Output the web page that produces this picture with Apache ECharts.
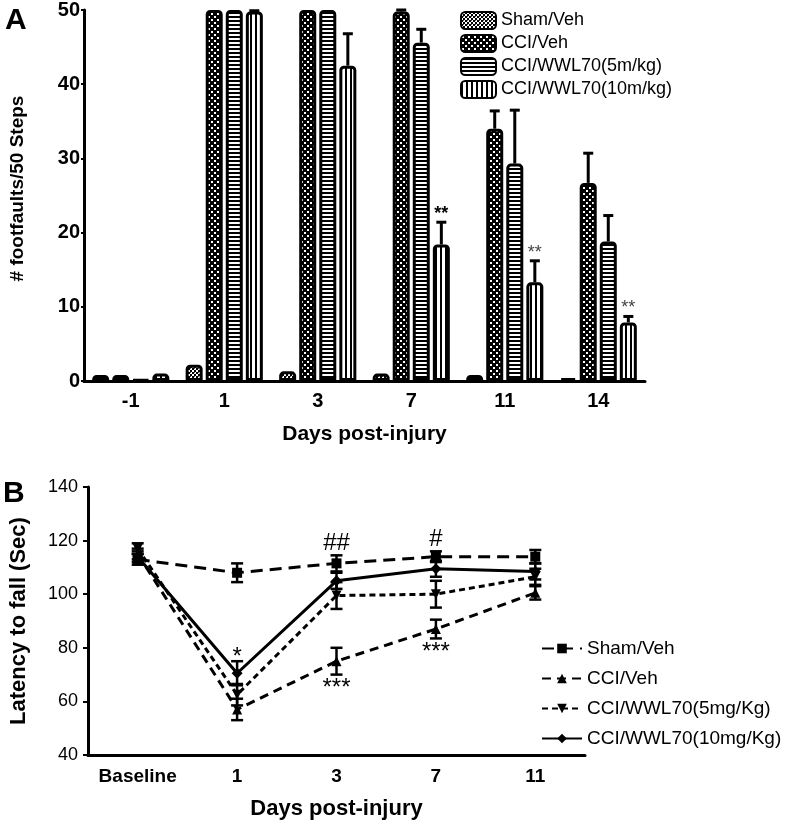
<!DOCTYPE html>
<html><head><meta charset="utf-8">
<script src="https://cdn.jsdelivr.net/npm/echarts@6/dist/echarts.min.js"></script>
<style>html,body{margin:0;padding:0;background:#fff}#c{width:792px;height:821px}</style>
</head><body><div id="c"></div>
<script>
// ---------- Panel A data ----------
const daysA = ['-1', '1', '3', '7', '11', '14'];
const namesA = ['Sham/Veh', 'CCI/Veh', 'CCI/WWL70(5m/kg)', 'CCI/WWL70(10m/kg)'];
const shamVehA = [0.8, 2.2, 1.3, 1.0, 0.8, 0.4];
const cciVehA = [0.8, 50, 50, 49.8, 34.0, 26.7];
const wwl5A = [0.2, 50, 50, 45.6, 29.3, 18.8];
const wwl10A = [1.0, 49.8, 42.5, 18.4, 13.3, 7.9];
const shamVehErrA = [0, 0, 0, 0, 0, 0];
const cciVehErrA = [0, 0, 0, 0.2, 2.4, 4.0];
const wwl5ErrA = [0, 0, 0, 1.8, 7.2, 3.5];
const wwl10ErrA = [0, 0.1, 4.3, 3.0, 2.9, 0.8];
const yTicksA = [0, 10, 20, 30, 40, 50];
// annotations: [day index, series index, text]
const annotA = [[3, 3, '**'], [4, 3, '**'], [5, 3, '**']];

// ---------- Panel B data ----------
const daysB = ['Baseline', '1', '3', '7', '11'];
const namesB = ['Sham/Veh', 'CCI/Veh', 'CCI/WWL70(5mg/Kg)', 'CCI/WWL70(10mg/Kg)'];
const shamVehB = [113, 108, 111.5, 114, 114];
const cciVehB = [115, 57, 75, 87, 100.5];
const wwl5B = [117, 62.5, 99.5, 100, 106.5];
const wwl10B = [114, 70.5, 105, 109.5, 108.5];
const shamVehErrB = [2, 3.5, 3, 2, 2.5];
const cciVehErrB = [2, 4, 5, 3.5, 2.5];
const wwl5ErrB = [2, 4, 5, 5, 3];
const wwl10ErrB = [2, 4.5, 3, 3, 3];
const yTicksB = [40, 60, 80, 100, 120, 140];
// annotations: [day index, series index, side, text]
const annotB = [[1, 3, 'above', '*'], [2, 0, 'above', '##'], [3, 0, 'above', '#'], [2, 1, 'below', '***'], [3, 1, 'below', '***']];

// ---------- patterns ----------
function pat(w, h, draw) {
  const c = document.createElement('canvas'); c.width = w; c.height = h;
  const g = c.getContext('2d'); g.fillStyle = '#fff'; g.fillRect(0, 0, w, h); g.fillStyle = '#000'; draw(g);
  return { image: c, repeat: 'repeat' };
}
const patSham = pat(4, 4, g => { g.fillRect(0, 0, 2, 2); g.fillRect(2, 2, 2, 2); g.fillStyle = '#555'; g.fillRect(2, 0, 1, 1); });
const patCCI = pat(6, 6, g => { g.fillRect(0, 0, 6, 6); g.fillStyle = '#fff'; g.fillRect(1, 1, 2, 2); g.fillRect(4, 4, 2, 2); });
const patW5 = pat(4, 4, g => { g.fillRect(0, 0, 4, 2); });
const patW10 = pat(5, 4, g => { g.fillRect(0, 0, 2, 4); });
const patsA = [patSham, patCCI, patW5, patW10];

const valsA = [shamVehA, cciVehA, wwl5A, wwl10A];
const errsA = [shamVehErrA, cciVehErrA, wwl5ErrA, wwl10ErrA];
const valsB = [shamVehB, cciVehB, wwl5B, wwl10B];
const errsB = [shamVehErrB, cciVehErrB, wwl5ErrB, wwl10ErrB];
const keyB = n => 'B|' + n;

const BW = 17, GAP = 0.18;
const sans = "'Liberation Sans',Arial,sans-serif";

const series = [];
valsA.forEach((v, i) => {
  series.push({
    name: namesA[i], type: 'bar', xAxisIndex: 0, yAxisIndex: 0, data: v,
    barWidth: BW, barGap: (GAP * 100) + '%',
    itemStyle: { color: patsA[i], borderColor: '#000', borderWidth: 3, borderRadius: [3, 3, 0, 0] },
    emphasis: { disabled: true }, animation: false
  });
});
// error bars A
const errDataA = [];
valsA.forEach((v, s) => v.forEach((val, d) => {
  const a = annotA.find(x => x[0] === d && x[1] === s);
  errDataA.push([d, val, errsA[s][d], s, a ? a[2] : '']);
}));
series.push({
  type: 'custom', xAxisIndex: 0, yAxisIndex: 0, data: errDataA, z: 5, silent: true, animation: false,
  encode: { x: 0, y: 1 },
  renderItem: function (params, api) {
    const d = api.value(0), v = api.value(1), e = api.value(2), s = api.value(3);
    const txt = errDataA[params.dataIndex][4];
    const off = (s - 1.5) * (BW + BW * GAP);
    const p0 = api.coord([d, v]); const p1 = api.coord([d, v + e]);
    const x = p0[0] + off;
    const ch = [];
    if (e > 0) {
      ch.push({ type: 'line', shape: { x1: x, y1: p0[1], x2: x, y2: p1[1] }, style: { stroke: '#000', lineWidth: 3 } });
      ch.push({ type: 'line', shape: { x1: x - 5, y1: p1[1], x2: x + 5, y2: p1[1] }, style: { stroke: '#000', lineWidth: 3 } });
    }
    if (txt) {
      ch.push({ type: 'text', style: { text: txt, x: x, y: p1[1] + 1, textAlign: 'center', textVerticalAlign: 'bottom', font: (d === 3 ? 'bold ' : '') + '18px ' + sans, fill: d === 3 ? '#000' : '#444' } });
    }
    return { type: 'group', children: ch };
  }
});

// lines B
const symB = ['rect', 'triangle', 'triangle', 'diamond'];
const rotB = [0, 0, 180, 0];
const dashB = [[12, 7], [9, 6], [6, 4], 'solid'];
valsB.forEach((v, i) => {
  series.push({
    name: keyB(namesB[i]), type: 'line', xAxisIndex: 1, yAxisIndex: 1, data: v,
    symbol: symB[i], symbolRotate: rotB[i], symbolSize: i === 3 ? 11 : 10, showSymbol: true,
    lineStyle: { color: '#000', width: 3, type: dashB[i] },
    itemStyle: { color: '#000' }, emphasis: { disabled: true }, animation: false, z: 3
  });
});
const errDataB = [];
valsB.forEach((v, s) => v.forEach((val, d) => {
  const a = annotB.find(x => x[0] === d && x[1] === s);
  errDataB.push([d, val, errsB[s][d], s, a ? a[2] : '', a ? a[3] : '']);
}));
series.push({
  type: 'custom', xAxisIndex: 1, yAxisIndex: 1, data: errDataB, z: 4, silent: true, animation: false,
  encode: { x: 0, y: 1 },
  renderItem: function (params, api) {
    const d = api.value(0), v = api.value(1), e = api.value(2);
    const side = errDataB[params.dataIndex][4], txt = errDataB[params.dataIndex][5];
    const pt = api.coord([d, v + e]); const pb = api.coord([d, v - e]);
    const x = pt[0];
    const st = { stroke: '#000', lineWidth: 2.5 };
    const ch = [
      { type: 'line', shape: { x1: x, y1: pt[1], x2: x, y2: pb[1] }, style: st },
      { type: 'line', shape: { x1: x - 6, y1: pt[1], x2: x + 6, y2: pt[1] }, style: st },
      { type: 'line', shape: { x1: x - 6, y1: pb[1], x2: x + 6, y2: pb[1] }, style: st }
    ];
    if (txt) {
      const star = txt.indexOf('*') >= 0;
      if (side === 'above') ch.push({ type: 'text', style: { text: txt, x: x, y: pt[1] + (star ? 8 : 0), textAlign: 'center', textVerticalAlign: 'bottom', font: '24px ' + sans, fill: '#000' } });
      else ch.push({ type: 'text', style: { text: txt, x: x, y: pb[1] + 2, textAlign: 'center', textVerticalAlign: 'top', font: '24px ' + sans, fill: '#000' } });
    }
    return { type: 'group', children: ch };
  }
});

const option = {
  backgroundColor: '#fff',
  animation: false,
  grid: [
    { left: 80, right: 147, top: 10, bottom: 440 },
    { left: 87, right: 207, top: 487, bottom: 66 }
  ],
  xAxis: [
    { type: 'category', gridIndex: 0, data: daysA, boundaryGap: true,
      axisLine: { lineStyle: { color: '#000', width: 3 } },
      axisTick: { alignWithLabel: true, length: 5, lineStyle: { width: 3, color: '#000' } },
      axisLabel: { color: '#000', fontFamily: sans, fontWeight: 'bold', fontSize: 20, margin: 10, interval: 0 },
      name: 'Days post-injury', nameLocation: 'middle', nameGap: 43,
      nameTextStyle: { color: '#000', fontFamily: sans, fontWeight: 'bold', fontSize: 21 } },
    { type: 'category', gridIndex: 1, data: daysB, boundaryGap: true,
      axisLine: { lineStyle: { color: '#000', width: 3 } },
      axisTick: { alignWithLabel: true, length: 7, lineStyle: { width: 3, color: '#000' } },
      axisLabel: { color: '#000', fontFamily: sans, fontWeight: 'bold', fontSize: 19, margin: 12, interval: 0 },
      name: 'Days post-injury', nameLocation: 'middle', nameGap: 43,
      nameTextStyle: { color: '#000', fontFamily: sans, fontWeight: 'bold', fontSize: 22 } }
  ],
  yAxis: [
    { type: 'value', gridIndex: 0, min: yTicksA[0], max: yTicksA[yTicksA.length - 1], interval: 10,
      splitLine: { show: false },
      axisLine: { show: true, lineStyle: { color: '#000', width: 3 } },
      axisTick: { show: true, length: 3, lineStyle: { width: 2, color: '#000' } },
      axisLabel: { color: '#000', fontFamily: sans, fontWeight: 'bold', fontSize: 20, margin: 4 },
      name: '# footfaults/50 Steps', nameLocation: 'middle', nameGap: 57,
      nameTextStyle: { color: '#000', fontFamily: sans, fontWeight: 'bold', fontSize: 19, padding: [0, 0, 0, 14] } },
    { type: 'value', gridIndex: 1, min: yTicksB[0], max: yTicksB[yTicksB.length - 1], interval: 20,
      splitLine: { show: false },
      axisLine: { show: true, lineStyle: { color: '#000', width: 3 } },
      axisTick: { show: true, length: 5, lineStyle: { width: 2, color: '#000' } },
      axisLabel: { color: '#000', fontFamily: sans, fontSize: 18, margin: 10 },
      name: 'Latency to fall (Sec)', nameLocation: 'middle', nameGap: 58,
      nameTextStyle: { color: '#000', fontFamily: sans, fontWeight: 'bold', fontSize: 22 } }
  ],
  legend: [
    { data: namesA, orient: 'vertical', left: 460, top: 11, padding: 0, itemWidth: 35, itemHeight: 17, itemGap: 4,
      icon: 'roundRect', selectedMode: false,
      textStyle: { color: '#000', fontFamily: sans, fontSize: 18 } },
    { data: namesB.map(keyB), orient: 'vertical', left: 541, top: 639, padding: 0, itemWidth: 40, itemHeight: 12, itemGap: 11,
      selectedMode: false, formatter: n => n.slice(2),
      textStyle: { color: '#000', fontFamily: sans, fontSize: 19 } }
  ],
  graphic: [
    { type: 'text', left: 5, top: 6, style: { text: 'A', font: 'bold 30px ' + sans, fill: '#000' } },
    { type: 'text', left: 3, top: 479, style: { text: 'B', font: 'bold 30px ' + sans, fill: '#000' } }
  ],
  series: series
};
const chart = echarts.init(document.getElementById('c'), null, { renderer: 'canvas' });
chart.setOption(option);
</script>
</body></html>
